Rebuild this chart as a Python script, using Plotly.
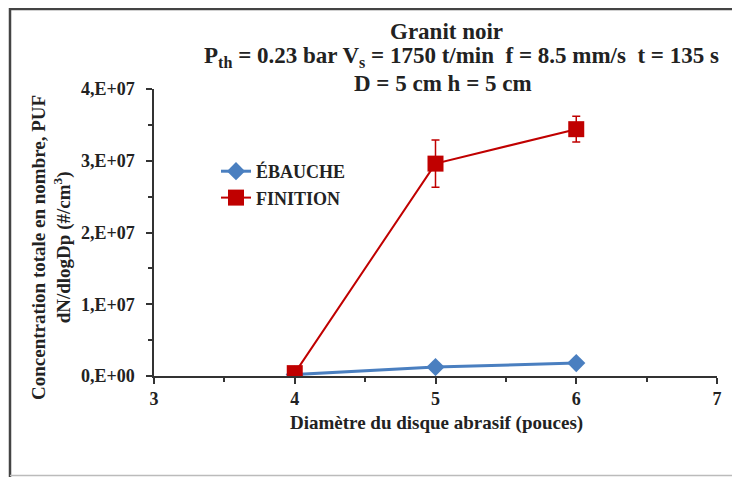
import plotly.graph_objects as go

diametre = [4, 5, 6]
ebauche = [2.0e5, 1.25e6, 1.8e6]
finition = [4.0e5, 2.96e7, 3.44e7]
finition_err = [0, 3.3e6, 1.8e6]

y_tickvals = [0, 1e7, 2e7, 3e7, 4e7]
y_ticktext = ["0,E+00", "1,E+07", "2,E+07", "3,E+07", "4,E+07"]
x_tickvals = [3, 4, 5, 6, 7]

FONT = "Liberation Serif"
TXT = "#222222"
BLUE = "#4a7fc0"
RED = "#c00000"

# page body has an 8px margin: work in screen coords and compensate
OFF = 8
W, H = 732, 469
L, T = 154 - OFF, 89 - OFF
R = W - (717 - OFF)
B = H - (376 - OFF)
pw, ph = W - L - R, H - T - B

def px(sx):
    return (sx - OFF - L) / pw

def py(sy):
    return (H - B - (sy - OFF)) / ph

def f(size):
    return dict(family=FONT, size=size, color=TXT, weight="bold")

fig = go.Figure()
fig.add_trace(go.Scatter(
    x=diametre, y=ebauche, name="ÉBAUCHE", mode="lines+markers",
    line=dict(color=BLUE, width=3),
    marker=dict(symbol="diamond", size=14, color=BLUE),
))
fig.add_trace(go.Scatter(
    x=diametre, y=finition, name="FINITION", mode="lines+markers",
    line=dict(color=RED, width=2),
    marker=dict(symbol="square", size=16, color=RED),
    error_y=dict(type="data", array=finition_err, color=RED, thickness=1.5, width=4),
))

fig.update_layout(
    width=W, height=H,
    margin=dict(l=L, r=R, t=T, b=B),
    paper_bgcolor="white", plot_bgcolor="white",
    font=f(18),
    showlegend=True,
    legend=dict(x=px(216), y=py(153), xanchor="left", yanchor="top",
                font=f(18), bgcolor="rgba(0,0,0,0)", itemwidth=30),
    xaxis=dict(range=[3, 7], tickvals=x_tickvals, ticktext=[str(v) for v in x_tickvals],
               showgrid=False, zeroline=False,
               showline=True, linecolor="#333333", linewidth=1.5,
               ticks="outside", ticklen=6, tickcolor="#333333", tickwidth=1.5,
               tickfont=f(18),
               minor=dict(dtick=0.5, ticks="outside", ticklen=4, tickcolor="#333333")),
    yaxis=dict(range=[0, 4e7], tickvals=y_tickvals, ticktext=y_ticktext,
               showgrid=False, zeroline=False,
               showline=True, linecolor="#333333", linewidth=1.5,
               ticks="outside", ticklen=6, tickcolor="#333333", tickwidth=1.5,
               tickfont=f(18), ticklabelstandoff=8,
               minor=dict(dtick=5e6, ticks="outside", ticklen=4, tickcolor="#333333")),
)

def note(text, sx, sy, size, angle=0):
    fig.add_annotation(text=text, xref="paper", yref="paper", x=px(sx), y=py(sy),
                       xanchor="center", yanchor="middle", showarrow=False,
                       textangle=angle, font=f(size))

# axis titles
note("Diamètre du disque abrasif (pouces)", 437, 423, 19)
note("Concentration totale en nombre, PUF<br>dN/dlogDp (#/cm<sup>3</sup>)", 51, 248, 19, -90)

# chart titles
note("Granit noir", 446, 31, 23)
note("P<sub>th</sub> = 0.23 bar V<sub>s</sub> = 1750 t/min  f = 8.5 mm/s  t = 135 s", 461, 57, 23)
note("D = 5 cm h = 5 cm", 443, 84, 23)

# outer frame
fig.add_shape(type="line", xref="paper", yref="paper", x0=px(9), x1=px(740), y0=py(9), y1=py(9),
              line=dict(color="#444444", width=2.5))
fig.add_shape(type="line", xref="paper", yref="paper", x0=px(10), x1=px(10), y0=py(8), y1=py(477),
              line=dict(color="#444444", width=2.5))
fig.add_shape(type="line", xref="paper", yref="paper", x0=px(10), x1=px(740), y0=py(475.5), y1=py(475.5),
              line=dict(color="#bbbbbb", width=1.5))

fig.write_html("out.html")
